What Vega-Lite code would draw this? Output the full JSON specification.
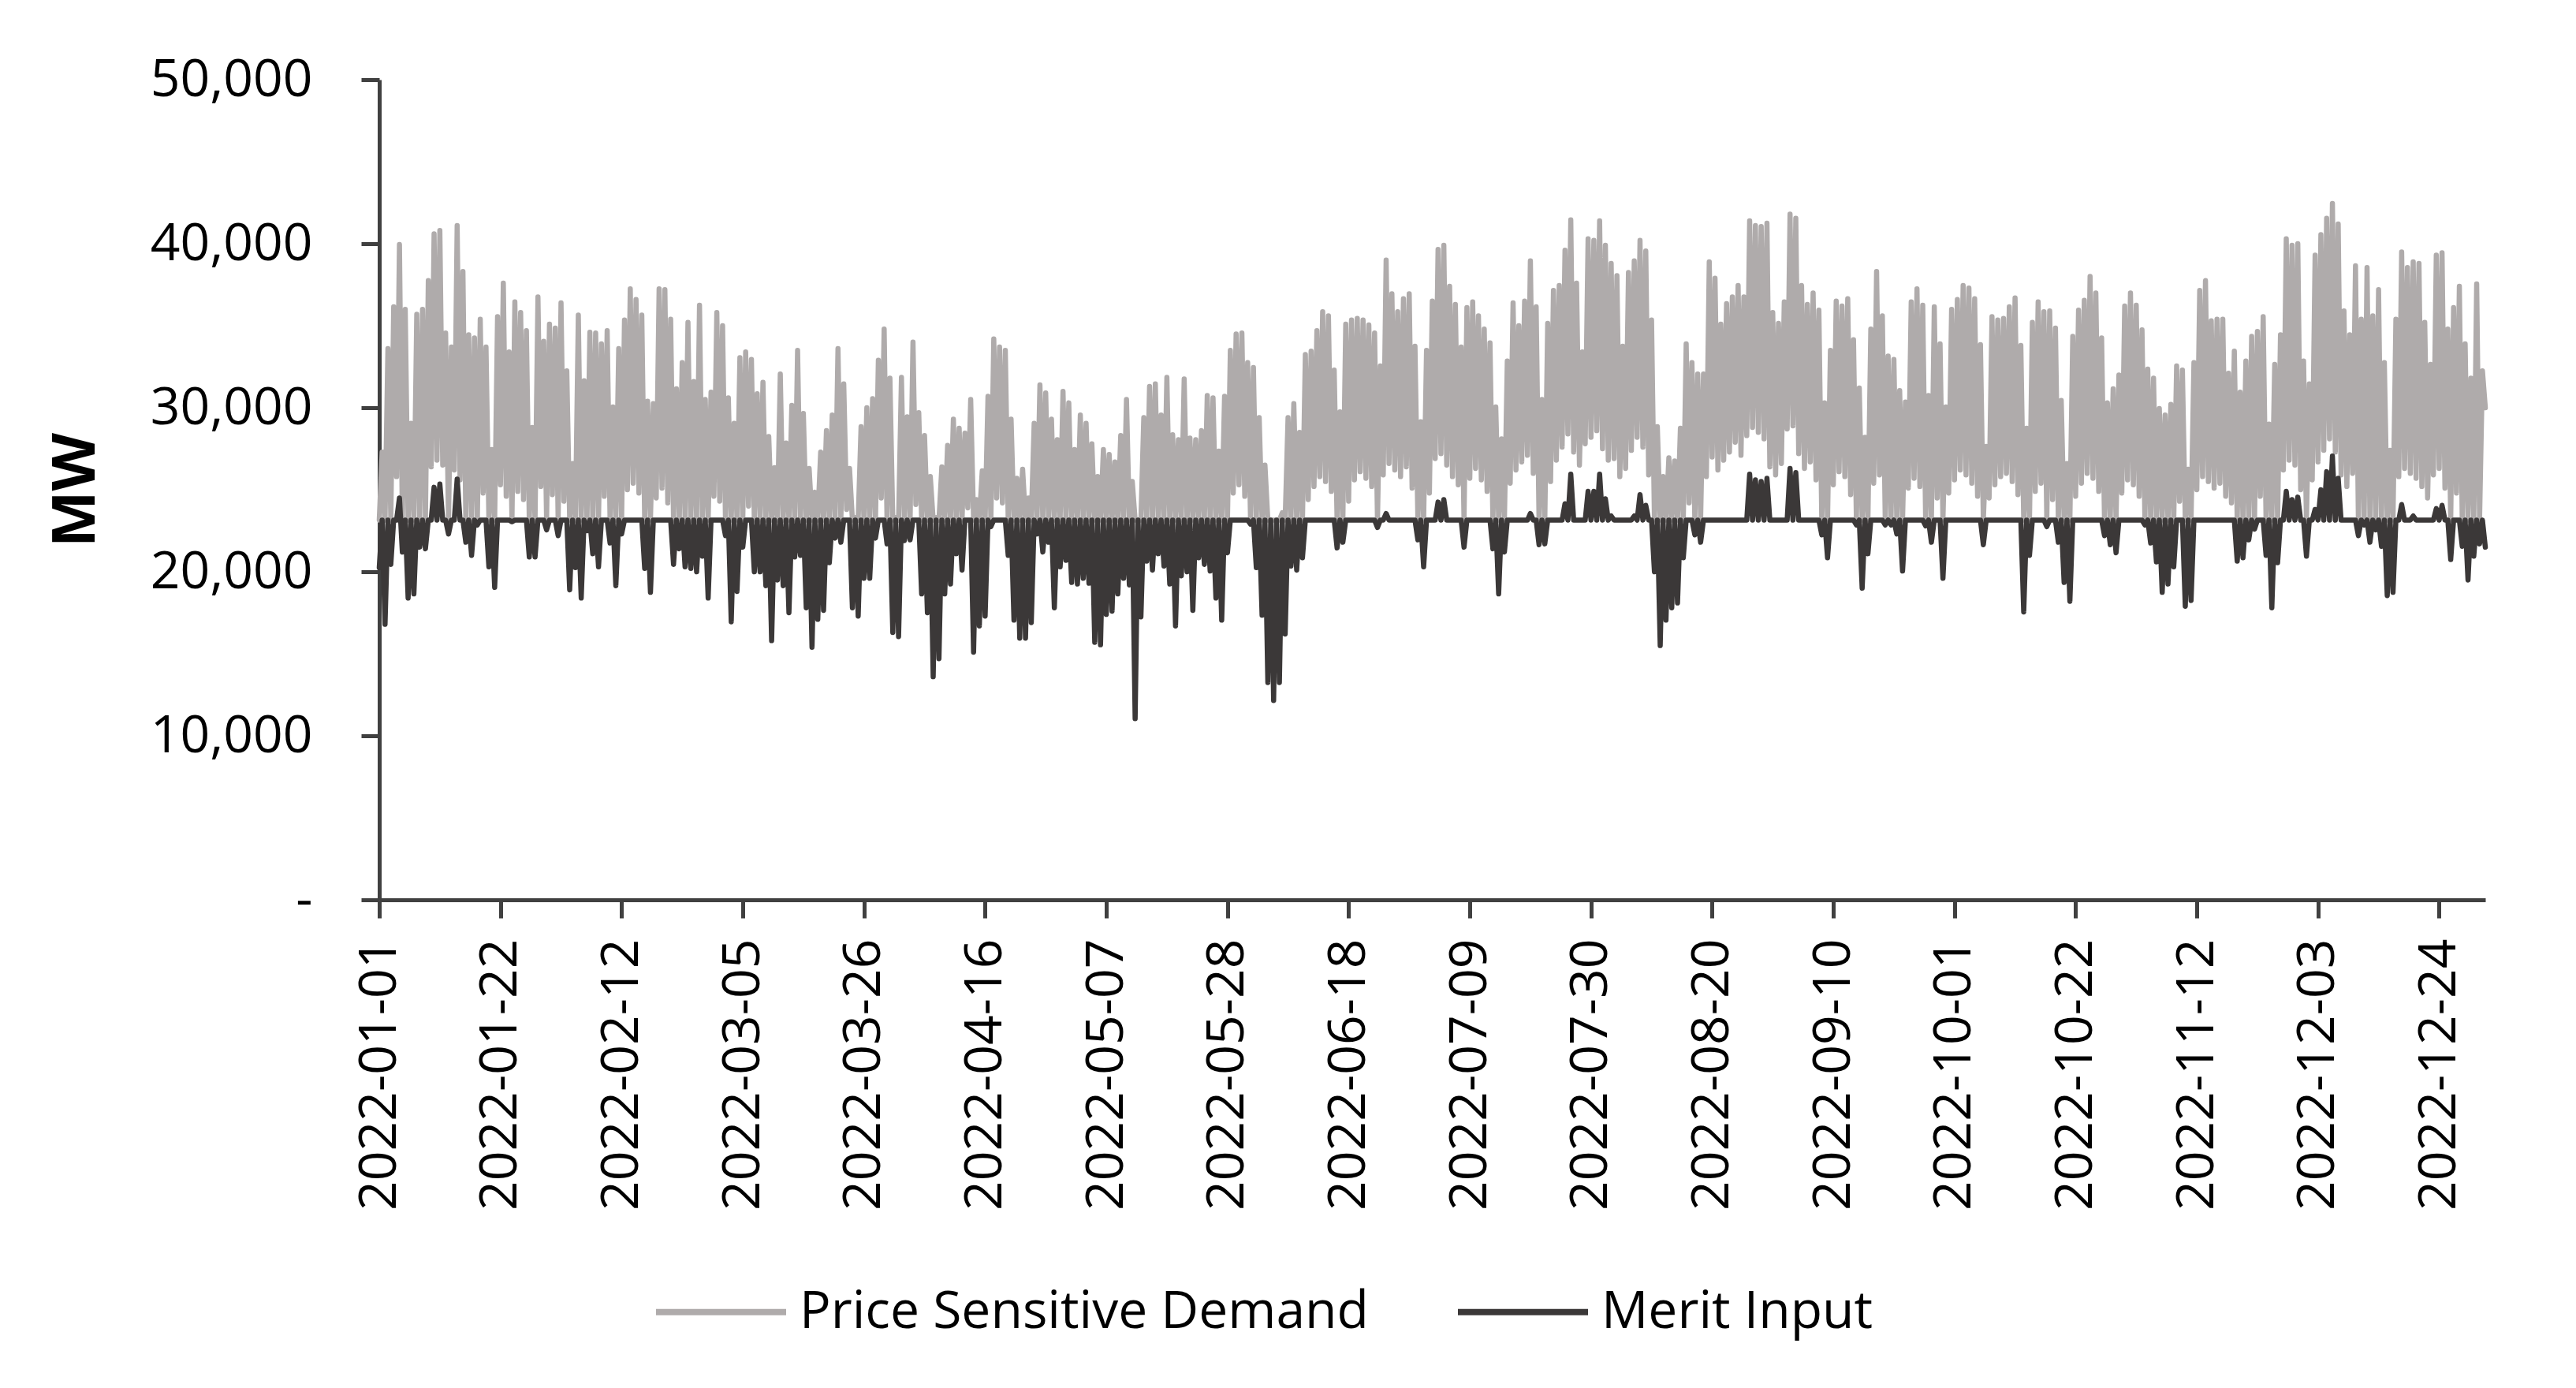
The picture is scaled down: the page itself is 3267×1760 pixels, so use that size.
{
"$schema": "https://vega.github.io/schema/vega-lite/v6.json",
"width": 2671, "height": 1040,
"autosize": {"type": "none"},
"padding": {"left": 481, "top": 101, "right": 115, "bottom": 619},
"background": "white",
"config": {
 "view": {"stroke": null},
 "axis": {"grid": false, "domainColor": "#404040", "domainWidth": 5, "tickColor": "#404040", "tickWidth": 5, "tickSize": 23, "labelFont": "Open Sans", "labelFontSize": 66, "labelColor": "black", "labelFlush": false, "labelOverlap": false, "labelLimit": 0, "labelBound": false}
},
"data": {"values": [
{"d":0,"p":23150,"m":20250},{"d":0.5,"p":27300,"m":23150},
{"d":1,"p":23150,"m":16800},{"d":1.5,"p":33600,"m":23150},
{"d":2,"p":23150,"m":20450},{"d":2.5,"p":36150,"m":23150},
{"d":3,"p":25800,"m":23150},{"d":3.5,"p":39950,"m":24500},
{"d":4,"p":23150,"m":21200},{"d":4.5,"p":36000,"m":23150},
{"d":5,"p":23150,"m":18400},{"d":5.5,"p":29050,"m":23150},
{"d":6,"p":23150,"m":18650},{"d":6.5,"p":35700,"m":23150},
{"d":7,"p":23150,"m":21500},{"d":7.5,"p":36000,"m":23150},
{"d":8,"p":23150,"m":21400},{"d":8.5,"p":37750,"m":23150},
{"d":9,"p":26400,"m":23150},{"d":9.5,"p":40600,"m":25150},
{"d":10,"p":26800,"m":23150},{"d":10.5,"p":40800,"m":25350},
{"d":11,"p":26500,"m":23150},{"d":11.5,"p":34550,"m":23150},
{"d":12,"p":23150,"m":22300},{"d":12.5,"p":33700,"m":23150},
{"d":13,"p":26200,"m":23150},{"d":13.5,"p":41100,"m":25650},
{"d":14,"p":25600,"m":23150},{"d":14.5,"p":38300,"m":23150},
{"d":15,"p":23150,"m":21800},{"d":15.5,"p":34450,"m":23150},
{"d":16,"p":23150,"m":21000},{"d":16.5,"p":34250,"m":23150},
{"d":17,"p":23150,"m":22850},{"d":17.5,"p":35400,"m":23150},
{"d":18,"p":24800,"m":23150},{"d":18.5,"p":33700,"m":23150},
{"d":19,"p":23150,"m":20300},{"d":19.5,"p":27450,"m":23150},
{"d":20,"p":23150,"m":19050},{"d":20.5,"p":35550,"m":23150},
{"d":21,"p":25300,"m":23150},{"d":21.5,"p":37600,"m":23150},
{"d":22,"p":24600,"m":23150},{"d":22.5,"p":33400,"m":23150},
{"d":23,"p":23150,"m":23050},{"d":23.5,"p":36450,"m":23150},
{"d":24,"p":24900,"m":23150},{"d":24.5,"p":35800,"m":23150},
{"d":25,"p":24400,"m":23150},{"d":25.5,"p":34700,"m":23150},
{"d":26,"p":23150,"m":20900},{"d":26.5,"p":28800,"m":23150},
{"d":27,"p":23150,"m":20900},{"d":27.5,"p":36750,"m":23150},
{"d":28,"p":25200,"m":23150},{"d":28.5,"p":34050,"m":23150},
{"d":29,"p":23150,"m":22550},{"d":29.5,"p":35100,"m":23150},
{"d":30,"p":24700,"m":23150},{"d":30.5,"p":34850,"m":23150},
{"d":31,"p":23150,"m":22200},{"d":31.5,"p":36400,"m":23150},
{"d":32,"p":24300,"m":23150},{"d":32.5,"p":32250,"m":23150},
{"d":33,"p":23150,"m":18900},{"d":33.5,"p":26600,"m":23150},
{"d":34,"p":23150,"m":20250},{"d":34.5,"p":35650,"m":23150},
{"d":35,"p":23150,"m":18400},{"d":35.5,"p":31650,"m":23150},
{"d":36,"p":23150,"m":22500},{"d":36.5,"p":34600,"m":23150},
{"d":37,"p":23150,"m":21100},{"d":37.5,"p":34550,"m":23150},
{"d":38,"p":23150,"m":20300},{"d":38.5,"p":33900,"m":23150},
{"d":39,"p":24600,"m":23150},{"d":39.5,"p":34700,"m":23150},
{"d":40,"p":23150,"m":21750},{"d":40.5,"p":30050,"m":23150},
{"d":41,"p":23150,"m":19150},{"d":41.5,"p":33600,"m":23150},
{"d":42,"p":23150,"m":22300},{"d":42.5,"p":35350,"m":23150},
{"d":43,"p":25000,"m":23150},{"d":43.5,"p":37250,"m":23150},
{"d":44,"p":25400,"m":23150},{"d":44.5,"p":36600,"m":23150},
{"d":45,"p":24800,"m":23150},{"d":45.5,"p":35650,"m":23150},
{"d":46,"p":23150,"m":20200},{"d":46.5,"p":30400,"m":23150},
{"d":47,"p":23150,"m":18750},{"d":47.5,"p":30250,"m":23150},
{"d":48,"p":24500,"m":23150},{"d":48.5,"p":37250,"m":23150},
{"d":49,"p":25100,"m":23150},{"d":49.5,"p":37200,"m":23150},
{"d":50,"p":24200,"m":23150},{"d":50.5,"p":35400,"m":23150},
{"d":51,"p":23150,"m":20450},{"d":51.5,"p":31150,"m":23150},
{"d":52,"p":23150,"m":21400},{"d":52.5,"p":32750,"m":23150},
{"d":53,"p":23150,"m":20300},{"d":53.5,"p":35200,"m":23150},
{"d":54,"p":23150,"m":20200},{"d":54.5,"p":31600,"m":23150},
{"d":55,"p":23150,"m":20000},{"d":55.5,"p":36250,"m":23150},
{"d":56,"p":23150,"m":20950},{"d":56.5,"p":30500,"m":23150},
{"d":57,"p":23150,"m":18400},{"d":57.5,"p":30950,"m":23150},
{"d":58,"p":24600,"m":23150},{"d":58.5,"p":35800,"m":23150},
{"d":59,"p":24300,"m":23150},{"d":59.5,"p":35000,"m":23150},
{"d":60,"p":23150,"m":22200},{"d":60.5,"p":30600,"m":23150},
{"d":61,"p":23150,"m":16950},{"d":61.5,"p":29050,"m":23150},
{"d":62,"p":23150,"m":18800},{"d":62.5,"p":33050,"m":23150},
{"d":63,"p":23150,"m":21500},{"d":63.5,"p":33400,"m":23150},
{"d":64,"p":24000,"m":23150},{"d":64.5,"p":32950,"m":23150},
{"d":65,"p":23150,"m":20000},{"d":65.5,"p":30850,"m":23150},
{"d":66,"p":23150,"m":20000},{"d":66.5,"p":31550,"m":23150},
{"d":67,"p":23150,"m":19150},{"d":67.5,"p":28250,"m":23150},
{"d":68,"p":23150,"m":15800},{"d":68.5,"p":26350,"m":23150},
{"d":69,"p":23150,"m":19500},{"d":69.5,"p":32050,"m":23150},
{"d":70,"p":23150,"m":19150},{"d":70.5,"p":27850,"m":23150},
{"d":71,"p":23150,"m":17500},{"d":71.5,"p":30150,"m":23150},
{"d":72,"p":23150,"m":20900},{"d":72.5,"p":33500,"m":23150},
{"d":73,"p":23150,"m":21000},{"d":73.5,"p":29650,"m":23150},
{"d":74,"p":23150,"m":17800},{"d":74.5,"p":26300,"m":23150},
{"d":75,"p":23150,"m":15400},{"d":75.5,"p":24850,"m":23150},
{"d":76,"p":23150,"m":17100},{"d":76.5,"p":27300,"m":23150},
{"d":77,"p":23150,"m":17650},{"d":77.5,"p":28600,"m":23150},
{"d":78,"p":23150,"m":20550},{"d":78.5,"p":29550,"m":23150},
{"d":79,"p":23150,"m":22050},{"d":79.5,"p":33600,"m":23150},
{"d":80,"p":23150,"m":21800},{"d":80.5,"p":31450,"m":23150},
{"d":81,"p":23800,"m":23150},{"d":81.5,"p":26300,"m":23150},
{"d":82,"p":23150,"m":17800},{"d":82.5,"p":23300,"m":23150},
{"d":83,"p":23150,"m":17300},{"d":83.5,"p":28850,"m":23150},
{"d":84,"p":23150,"m":19600},{"d":84.5,"p":30000,"m":23150},
{"d":85,"p":23150,"m":19600},{"d":85.5,"p":30550,"m":23150},
{"d":86,"p":23150,"m":22050},{"d":86.5,"p":32900,"m":23150},
{"d":87,"p":24500,"m":23150},{"d":87.5,"p":34800,"m":23150},
{"d":88,"p":23150,"m":21700},{"d":88.5,"p":31800,"m":23150},
{"d":89,"p":23150,"m":16300},{"d":89.5,"p":23300,"m":23150},
{"d":90,"p":23150,"m":16050},{"d":90.5,"p":31850,"m":23150},
{"d":91,"p":23150,"m":21900},{"d":91.5,"p":29450,"m":23150},
{"d":92,"p":23150,"m":21950},{"d":92.5,"p":34000,"m":23150},
{"d":93,"p":24100,"m":23150},{"d":93.5,"p":29700,"m":23150},
{"d":94,"p":23150,"m":18650},{"d":94.5,"p":28300,"m":23150},
{"d":95,"p":23150,"m":17500},{"d":95.5,"p":25800,"m":23150},
{"d":96,"p":23150,"m":13600},{"d":96.5,"p":23300,"m":23150},
{"d":97,"p":23150,"m":14700},{"d":97.5,"p":26400,"m":23150},
{"d":98,"p":23150,"m":18650},{"d":98.5,"p":27700,"m":23150},
{"d":99,"p":23150,"m":19250},{"d":99.5,"p":29300,"m":23150},
{"d":100,"p":23150,"m":21100},{"d":100.5,"p":28750,"m":23150},
{"d":101,"p":23150,"m":20100},{"d":101.5,"p":28450,"m":23150},
{"d":102,"p":23900,"m":23150},{"d":102.5,"p":30500,"m":23150},
{"d":103,"p":23150,"m":15100},{"d":103.5,"p":24400,"m":23150},
{"d":104,"p":23150,"m":16700},{"d":104.5,"p":26150,"m":23150},
{"d":105,"p":23150,"m":17300},{"d":105.5,"p":30700,"m":23150},
{"d":106,"p":23150,"m":22750},{"d":106.5,"p":34200,"m":23150},
{"d":107,"p":24500,"m":23150},{"d":107.5,"p":33700,"m":23150},
{"d":108,"p":24200,"m":23150},{"d":108.5,"p":33500,"m":23150},
{"d":109,"p":23150,"m":21000},{"d":109.5,"p":29300,"m":23150},
{"d":110,"p":23150,"m":17050},{"d":110.5,"p":25700,"m":23150},
{"d":111,"p":23150,"m":15950},{"d":111.5,"p":26250,"m":23150},
{"d":112,"p":23150,"m":15950},{"d":112.5,"p":24500,"m":23150},
{"d":113,"p":23150,"m":16900},{"d":113.5,"p":29050,"m":23150},
{"d":114,"p":23150,"m":22300},{"d":114.5,"p":31400,"m":23150},
{"d":115,"p":23150,"m":21200},{"d":115.5,"p":30900,"m":23150},
{"d":116,"p":23150,"m":21800},{"d":116.5,"p":29300,"m":23150},
{"d":117,"p":23150,"m":17800},{"d":117.5,"p":28050,"m":23150},
{"d":118,"p":23150,"m":20300},{"d":118.5,"p":31000,"m":23150},
{"d":119,"p":23150,"m":20700},{"d":119.5,"p":30300,"m":23150},
{"d":120,"p":23150,"m":19350},{"d":120.5,"p":27450,"m":23150},
{"d":121,"p":23150,"m":19250},{"d":121.5,"p":29550,"m":23150},
{"d":122,"p":23150,"m":19600},{"d":122.5,"p":29050,"m":23150},
{"d":123,"p":23150,"m":19300},{"d":123.5,"p":27800,"m":23150},
{"d":124,"p":23150,"m":15700},{"d":124.5,"p":25800,"m":23150},
{"d":125,"p":23150,"m":15550},{"d":125.5,"p":27450,"m":23150},
{"d":126,"p":23150,"m":17400},{"d":126.5,"p":27150,"m":23150},
{"d":127,"p":23150,"m":17600},{"d":127.5,"p":26700,"m":23150},
{"d":128,"p":23150,"m":18650},{"d":128.5,"p":28300,"m":23150},
{"d":129,"p":23150,"m":19600},{"d":129.5,"p":30500,"m":23150},
{"d":130,"p":23150,"m":19200},{"d":130.5,"p":25500,"m":23150},
{"d":131,"p":23150,"m":11050},{"d":131.5,"p":23150,"m":23150},
{"d":132,"p":23150,"m":17250},{"d":132.5,"p":29400,"m":23150},
{"d":133,"p":23150,"m":20650},{"d":133.5,"p":31300,"m":23150},
{"d":134,"p":23150,"m":20100},{"d":134.5,"p":31450,"m":23150},
{"d":135,"p":23150,"m":21100},{"d":135.5,"p":29550,"m":23150},
{"d":136,"p":23150,"m":20350},{"d":136.5,"p":31850,"m":23150},
{"d":137,"p":23150,"m":19250},{"d":137.5,"p":28350,"m":23150},
{"d":138,"p":23150,"m":16700},{"d":138.5,"p":28050,"m":23150},
{"d":139,"p":23150,"m":19750},{"d":139.5,"p":31750,"m":23150},
{"d":140,"p":23150,"m":20000},{"d":140.5,"p":28150,"m":23150},
{"d":141,"p":23150,"m":17650},{"d":141.5,"p":28050,"m":23150},
{"d":142,"p":23150,"m":20850},{"d":142.5,"p":28600,"m":23150},
{"d":143,"p":23150,"m":20450},{"d":143.5,"p":30750,"m":23150},
{"d":144,"p":23150,"m":20050},{"d":144.5,"p":30600,"m":23150},
{"d":145,"p":23150,"m":18400},{"d":145.5,"p":27350,"m":23150},
{"d":146,"p":23150,"m":17050},{"d":146.5,"p":30700,"m":23150},
{"d":147,"p":23150,"m":21150},{"d":147.5,"p":33500,"m":23150},
{"d":148,"p":24800,"m":23150},{"d":148.5,"p":34500,"m":23150},
{"d":149,"p":25300,"m":23150},{"d":149.5,"p":34550,"m":23150},
{"d":150,"p":24600,"m":23150},{"d":150.5,"p":32750,"m":23150},
{"d":151,"p":23150,"m":22900},{"d":151.5,"p":32450,"m":23150},
{"d":152,"p":23150,"m":20250},{"d":152.5,"p":29400,"m":23150},
{"d":153,"p":23150,"m":17350},{"d":153.5,"p":26500,"m":23150},
{"d":154,"p":23150,"m":13250},{"d":154.5,"p":23150,"m":23150},
{"d":155,"p":23150,"m":12150},{"d":155.5,"p":23150,"m":23150},
{"d":156,"p":23150,"m":13250},{"d":156.5,"p":23600,"m":23150},
{"d":157,"p":23150,"m":16200},{"d":157.5,"p":29400,"m":23150},
{"d":158,"p":23150,"m":20350},{"d":158.5,"p":30250,"m":23150},
{"d":159,"p":23150,"m":20100},{"d":159.5,"p":28500,"m":23150},
{"d":160,"p":23150,"m":20850},{"d":160.5,"p":33250,"m":23150},
{"d":161,"p":24400,"m":23150},{"d":161.5,"p":33450,"m":23150},
{"d":162,"p":25200,"m":23150},{"d":162.5,"p":34700,"m":23150},
{"d":163,"p":25800,"m":23150},{"d":163.5,"p":35850,"m":23150},
{"d":164,"p":25500,"m":23150},{"d":164.5,"p":35600,"m":23150},
{"d":165,"p":24900,"m":23150},{"d":165.5,"p":32300,"m":23150},
{"d":166,"p":23150,"m":21450},{"d":166.5,"p":29750,"m":23150},
{"d":167,"p":23150,"m":21800},{"d":167.5,"p":35100,"m":23150},
{"d":168,"p":24300,"m":23150},{"d":168.5,"p":35350,"m":23150},
{"d":169,"p":25600,"m":23150},{"d":169.5,"p":35450,"m":23150},
{"d":170,"p":26100,"m":23150},{"d":170.5,"p":35350,"m":23150},
{"d":171,"p":25700,"m":23150},{"d":171.5,"p":35050,"m":23150},
{"d":172,"p":25200,"m":23150},{"d":172.5,"p":34550,"m":23150},
{"d":173,"p":23150,"m":22700},{"d":173.5,"p":32550,"m":23150},
{"d":174,"p":25900,"m":23150},{"d":174.5,"p":39000,"m":23550},
{"d":175,"p":26600,"m":23150},{"d":175.5,"p":36950,"m":23150},
{"d":176,"p":26200,"m":23150},{"d":176.5,"p":35850,"m":23150},
{"d":177,"p":25800,"m":23150},{"d":177.5,"p":36650,"m":23150},
{"d":178,"p":26400,"m":23150},{"d":178.5,"p":36950,"m":23150},
{"d":179,"p":25100,"m":23150},{"d":179.5,"p":33750,"m":23150},
{"d":180,"p":23150,"m":21950},{"d":180.5,"p":29150,"m":23150},
{"d":181,"p":23150,"m":20300},{"d":181.5,"p":33500,"m":23150},
{"d":182,"p":24800,"m":23150},{"d":182.5,"p":36500,"m":23150},
{"d":183,"p":26900,"m":23150},{"d":183.5,"p":39650,"m":24250},
{"d":184,"p":27200,"m":23150},{"d":184.5,"p":39900,"m":24400},
{"d":185,"p":26500,"m":23150},{"d":185.5,"p":37400,"m":23150},
{"d":186,"p":25800,"m":23150},{"d":186.5,"p":36300,"m":23150},
{"d":187,"p":25300,"m":23150},{"d":187.5,"p":33700,"m":23150},
{"d":188,"p":23150,"m":21500},{"d":188.5,"p":36100,"m":23150},
{"d":189,"p":25700,"m":23150},{"d":189.5,"p":36450,"m":23150},
{"d":190,"p":26300,"m":23150},{"d":190.5,"p":35600,"m":23150},
{"d":191,"p":25600,"m":23150},{"d":191.5,"p":34800,"m":23150},
{"d":192,"p":24900,"m":23150},{"d":192.5,"p":33950,"m":23150},
{"d":193,"p":23150,"m":21400},{"d":193.5,"p":30050,"m":23150},
{"d":194,"p":23150,"m":18650},{"d":194.5,"p":28100,"m":23150},
{"d":195,"p":23150,"m":21200},{"d":195.5,"p":32850,"m":23150},
{"d":196,"p":25400,"m":23150},{"d":196.5,"p":36400,"m":23150},
{"d":197,"p":26200,"m":23150},{"d":197.5,"p":35000,"m":23150},
{"d":198,"p":26700,"m":23150},{"d":198.5,"p":36500,"m":23150},
{"d":199,"p":27100,"m":23150},{"d":199.5,"p":38950,"m":23550},
{"d":200,"p":26000,"m":23150},{"d":200.5,"p":36150,"m":23150},
{"d":201,"p":23150,"m":21650},{"d":201.5,"p":30500,"m":23150},
{"d":202,"p":23150,"m":21700},{"d":202.5,"p":35150,"m":23150},
{"d":203,"p":25500,"m":23150},{"d":203.5,"p":37150,"m":23150},
{"d":204,"p":26800,"m":23150},{"d":204.5,"p":37450,"m":23150},
{"d":205,"p":27600,"m":23150},{"d":205.5,"p":39600,"m":24150},
{"d":206,"p":28400,"m":23150},{"d":206.5,"p":41450,"m":25950},
{"d":207,"p":27300,"m":23150},{"d":207.5,"p":37600,"m":23150},
{"d":208,"p":26500,"m":23150},{"d":208.5,"p":33400,"m":23150},
{"d":209,"p":27800,"m":23150},{"d":209.5,"p":40300,"m":24900},
{"d":210,"p":28200,"m":23150},{"d":210.5,"p":40200,"m":24900},
{"d":211,"p":28600,"m":23150},{"d":211.5,"p":41400,"m":25950},
{"d":212,"p":27500,"m":23150},{"d":212.5,"p":39900,"m":24450},
{"d":213,"p":26800,"m":23150},{"d":213.5,"p":38800,"m":23400},
{"d":214,"p":26900,"m":23150},{"d":214.5,"p":38050,"m":23150},
{"d":215,"p":25800,"m":23150},{"d":215.5,"p":33750,"m":23150},
{"d":216,"p":26300,"m":23150},{"d":216.5,"p":38250,"m":23150},
{"d":217,"p":27400,"m":23150},{"d":217.5,"p":38950,"m":23400},
{"d":218,"p":28200,"m":23150},{"d":218.5,"p":40200,"m":24700},
{"d":219,"p":27600,"m":23150},{"d":219.5,"p":39550,"m":24050},
{"d":220,"p":25900,"m":23150},{"d":220.5,"p":35350,"m":23150},
{"d":221,"p":23150,"m":20000},{"d":221.5,"p":28850,"m":23150},
{"d":222,"p":23150,"m":15500},{"d":222.5,"p":25800,"m":23150},
{"d":223,"p":23150,"m":17050},{"d":223.5,"p":26950,"m":23150},
{"d":224,"p":23150,"m":17800},{"d":224.5,"p":26750,"m":23150},
{"d":225,"p":23150,"m":18100},{"d":225.5,"p":28750,"m":23150},
{"d":226,"p":23150,"m":20850},{"d":226.5,"p":33900,"m":23150},
{"d":227,"p":24200,"m":23150},{"d":227.5,"p":32750,"m":23150},
{"d":228,"p":23150,"m":22250},{"d":228.5,"p":32050,"m":23150},
{"d":229,"p":23150,"m":21800},{"d":229.5,"p":32050,"m":23150},
{"d":230,"p":25800,"m":23150},{"d":230.5,"p":38900,"m":23150},
{"d":231,"p":27000,"m":23150},{"d":231.5,"p":37900,"m":23150},
{"d":232,"p":26200,"m":23150},{"d":232.5,"p":35100,"m":23150},
{"d":233,"p":26800,"m":23150},{"d":233.5,"p":36350,"m":23150},
{"d":234,"p":27300,"m":23150},{"d":234.5,"p":36750,"m":23150},
{"d":235,"p":27900,"m":23150},{"d":235.5,"p":37450,"m":23150},
{"d":236,"p":27100,"m":23150},{"d":236.5,"p":36750,"m":23150},
{"d":237,"p":28300,"m":23150},{"d":237.5,"p":41400,"m":25950},
{"d":238,"p":28800,"m":23150},{"d":238.5,"p":41100,"m":25600},
{"d":239,"p":28500,"m":23150},{"d":239.5,"p":41050,"m":25500},
{"d":240,"p":28100,"m":23150},{"d":240.5,"p":41250,"m":25700},
{"d":241,"p":26400,"m":23150},{"d":241.5,"p":35800,"m":23150},
{"d":242,"p":25900,"m":23150},{"d":242.5,"p":35150,"m":23150},
{"d":243,"p":26600,"m":23150},{"d":243.5,"p":36450,"m":23150},
{"d":244,"p":28700,"m":23150},{"d":244.5,"p":41800,"m":26300},
{"d":245,"p":28900,"m":23150},{"d":245.5,"p":41550,"m":26050},
{"d":246,"p":27200,"m":23150},{"d":246.5,"p":37450,"m":23150},
{"d":247,"p":26300,"m":23150},{"d":247.5,"p":36300,"m":23150},
{"d":248,"p":26700,"m":23150},{"d":248.5,"p":37000,"m":23150},
{"d":249,"p":25600,"m":23150},{"d":249.5,"p":35950,"m":23150},
{"d":250,"p":23150,"m":22250},{"d":250.5,"p":30300,"m":23150},
{"d":251,"p":23150,"m":20850},{"d":251.5,"p":33500,"m":23150},
{"d":252,"p":25300,"m":23150},{"d":252.5,"p":36500,"m":23150},
{"d":253,"p":26100,"m":23150},{"d":253.5,"p":36200,"m":23150},
{"d":254,"p":25800,"m":23150},{"d":254.5,"p":36650,"m":23150},
{"d":255,"p":24700,"m":23150},{"d":255.5,"p":34150,"m":23150},
{"d":256,"p":23150,"m":22850},{"d":256.5,"p":31200,"m":23150},
{"d":257,"p":23150,"m":19000},{"d":257.5,"p":28200,"m":23150},
{"d":258,"p":23150,"m":21100},{"d":258.5,"p":34800,"m":23150},
{"d":259,"p":25400,"m":23150},{"d":259.5,"p":38300,"m":23150},
{"d":260,"p":25900,"m":23150},{"d":260.5,"p":35600,"m":23150},
{"d":261,"p":23150,"m":22850},{"d":261.5,"p":33150,"m":23150},
{"d":262,"p":23150,"m":22850},{"d":262.5,"p":32950,"m":23150},
{"d":263,"p":23150,"m":22300},{"d":263.5,"p":31050,"m":23150},
{"d":264,"p":23150,"m":20050},{"d":264.5,"p":30350,"m":23150},
{"d":265,"p":25100,"m":23150},{"d":265.5,"p":36450,"m":23150},
{"d":266,"p":25700,"m":23150},{"d":266.5,"p":37250,"m":23150},
{"d":267,"p":25200,"m":23150},{"d":267.5,"p":36250,"m":23150},
{"d":268,"p":23150,"m":22800},{"d":268.5,"p":30750,"m":23150},
{"d":269,"p":23150,"m":21800},{"d":269.5,"p":36150,"m":23150},
{"d":270,"p":24500,"m":23150},{"d":270.5,"p":33900,"m":23150},
{"d":271,"p":23150,"m":19600},{"d":271.5,"p":30050,"m":23150},
{"d":272,"p":24800,"m":23150},{"d":272.5,"p":36000,"m":23150},
{"d":273,"p":25600,"m":23150},{"d":273.5,"p":36600,"m":23150},
{"d":274,"p":26200,"m":23150},{"d":274.5,"p":37450,"m":23150},
{"d":275,"p":25900,"m":23150},{"d":275.5,"p":37300,"m":23150},
{"d":276,"p":25400,"m":23150},{"d":276.5,"p":36650,"m":23150},
{"d":277,"p":24600,"m":23150},{"d":277.5,"p":33850,"m":23150},
{"d":278,"p":23150,"m":21650},{"d":278.5,"p":27650,"m":23150},
{"d":279,"p":24500,"m":23150},{"d":279.5,"p":35550,"m":23150},
{"d":280,"p":25300,"m":23150},{"d":280.5,"p":35350,"m":23150},
{"d":281,"p":25800,"m":23150},{"d":281.5,"p":35450,"m":23150},
{"d":282,"p":26000,"m":23150},{"d":282.5,"p":36150,"m":23150},
{"d":283,"p":25500,"m":23150},{"d":283.5,"p":36700,"m":23150},
{"d":284,"p":24700,"m":23150},{"d":284.5,"p":33800,"m":23150},
{"d":285,"p":23150,"m":17550},{"d":285.5,"p":28750,"m":23150},
{"d":286,"p":23150,"m":21000},{"d":286.5,"p":35200,"m":23150},
{"d":287,"p":24900,"m":23150},{"d":287.5,"p":36450,"m":23150},
{"d":288,"p":25400,"m":23150},{"d":288.5,"p":35850,"m":23150},
{"d":289,"p":23150,"m":22750},{"d":289.5,"p":35900,"m":23150},
{"d":290,"p":24400,"m":23150},{"d":290.5,"p":34850,"m":23150},
{"d":291,"p":23150,"m":21800},{"d":291.5,"p":30450,"m":23150},
{"d":292,"p":23150,"m":19350},{"d":292.5,"p":26600,"m":23150},
{"d":293,"p":23150,"m":18200},{"d":293.5,"p":34350,"m":23150},
{"d":294,"p":24600,"m":23150},{"d":294.5,"p":35950,"m":23150},
{"d":295,"p":25400,"m":23150},{"d":295.5,"p":36550,"m":23150},
{"d":296,"p":26000,"m":23150},{"d":296.5,"p":38000,"m":23150},
{"d":297,"p":25700,"m":23150},{"d":297.5,"p":37000,"m":23150},
{"d":298,"p":24900,"m":23150},{"d":298.5,"p":34250,"m":23150},
{"d":299,"p":23150,"m":22200},{"d":299.5,"p":30300,"m":23150},
{"d":300,"p":23150,"m":21650},{"d":300.5,"p":31150,"m":23150},
{"d":301,"p":23150,"m":21150},{"d":301.5,"p":32000,"m":23150},
{"d":302,"p":24800,"m":23150},{"d":302.5,"p":36200,"m":23150},
{"d":303,"p":25600,"m":23150},{"d":303.5,"p":37000,"m":23150},
{"d":304,"p":25300,"m":23150},{"d":304.5,"p":36250,"m":23150},
{"d":305,"p":24600,"m":23150},{"d":305.5,"p":34750,"m":23150},
{"d":306,"p":23150,"m":22850},{"d":306.5,"p":32350,"m":23150},
{"d":307,"p":23150,"m":21750},{"d":307.5,"p":31800,"m":23150},
{"d":308,"p":23150,"m":20600},{"d":308.5,"p":29950,"m":23150},
{"d":309,"p":23150,"m":18750},{"d":309.5,"p":29550,"m":23150},
{"d":310,"p":23150,"m":19250},{"d":310.5,"p":30200,"m":23150},
{"d":311,"p":23150,"m":20300},{"d":311.5,"p":32550,"m":23150},
{"d":312,"p":24300,"m":23150},{"d":312.5,"p":32300,"m":23150},
{"d":313,"p":23150,"m":17900},{"d":313.5,"p":26250,"m":23150},
{"d":314,"p":23150,"m":18250},{"d":314.5,"p":32750,"m":23150},
{"d":315,"p":25000,"m":23150},{"d":315.5,"p":37150,"m":23150},
{"d":316,"p":25800,"m":23150},{"d":316.5,"p":37750,"m":23150},
{"d":317,"p":25500,"m":23150},{"d":317.5,"p":35300,"m":23150},
{"d":318,"p":25100,"m":23150},{"d":318.5,"p":35400,"m":23150},
{"d":319,"p":25400,"m":23150},{"d":319.5,"p":35400,"m":23150},
{"d":320,"p":24600,"m":23150},{"d":320.5,"p":32100,"m":23150},
{"d":321,"p":24200,"m":23150},{"d":321.5,"p":33450,"m":23150},
{"d":322,"p":23150,"m":20650},{"d":322.5,"p":30950,"m":23150},
{"d":323,"p":23150,"m":20850},{"d":323.5,"p":32850,"m":23150},
{"d":324,"p":23150,"m":21950},{"d":324.5,"p":34350,"m":23150},
{"d":325,"p":23150,"m":22600},{"d":325.5,"p":34650,"m":23150},
{"d":326,"p":24600,"m":23150},{"d":326.5,"p":35550,"m":23150},
{"d":327,"p":23150,"m":21000},{"d":327.5,"p":29000,"m":23150},
{"d":328,"p":23150,"m":17800},{"d":328.5,"p":32650,"m":23150},
{"d":329,"p":23150,"m":20550},{"d":329.5,"p":34450,"m":23150},
{"d":330,"p":26200,"m":23150},{"d":330.5,"p":40300,"m":24900},
{"d":331,"p":26800,"m":23150},{"d":331.5,"p":39900,"m":24400},
{"d":332,"p":26500,"m":23150},{"d":332.5,"p":40000,"m":24550},
{"d":333,"p":25000,"m":23150},{"d":333.5,"p":32850,"m":23150},
{"d":334,"p":23150,"m":20950},{"d":334.5,"p":31450,"m":23150},
{"d":335,"p":25600,"m":23150},{"d":335.5,"p":39300,"m":23800},
{"d":336,"p":26700,"m":23150},{"d":336.5,"p":40550,"m":25000},
{"d":337,"p":27400,"m":23150},{"d":337.5,"p":41550,"m":26100},
{"d":338,"p":28100,"m":23150},{"d":338.5,"p":42450,"m":27050},
{"d":339,"p":27300,"m":23150},{"d":339.5,"p":41200,"m":25700},
{"d":340,"p":25900,"m":23150},{"d":340.5,"p":35900,"m":23150},
{"d":341,"p":25200,"m":23150},{"d":341.5,"p":34450,"m":23150},
{"d":342,"p":26000,"m":23150},{"d":342.5,"p":38650,"m":23150},
{"d":343,"p":23150,"m":22200},{"d":343.5,"p":35400,"m":23150},
{"d":344,"p":23150,"m":22850},{"d":344.5,"p":38550,"m":23150},
{"d":345,"p":23150,"m":21800},{"d":345.5,"p":35600,"m":23150},
{"d":346,"p":23150,"m":22550},{"d":346.5,"p":37200,"m":23150},
{"d":347,"p":23150,"m":21550},{"d":347.5,"p":32750,"m":23150},
{"d":348,"p":23150,"m":18550},{"d":348.5,"p":27400,"m":23150},
{"d":349,"p":23150,"m":18750},{"d":349.5,"p":35400,"m":23150},
{"d":350,"p":25800,"m":23150},{"d":350.5,"p":39500,"m":24100},
{"d":351,"p":26300,"m":23150},{"d":351.5,"p":38550,"m":23150},
{"d":352,"p":26000,"m":23150},{"d":352.5,"p":38900,"m":23400},
{"d":353,"p":25700,"m":23150},{"d":353.5,"p":38800,"m":23150},
{"d":354,"p":25200,"m":23150},{"d":354.5,"p":35200,"m":23150},
{"d":355,"p":24500,"m":23150},{"d":355.5,"p":32650,"m":23150},
{"d":356,"p":25900,"m":23150},{"d":356.5,"p":39300,"m":23850},
{"d":357,"p":26300,"m":23150},{"d":357.5,"p":39450,"m":24050},
{"d":358,"p":25100,"m":23150},{"d":358.5,"p":34800,"m":23150},
{"d":359,"p":23150,"m":20750},{"d":359.5,"p":36100,"m":23150},
{"d":360,"p":24800,"m":23150},{"d":360.5,"p":37400,"m":23150},
{"d":361,"p":23150,"m":21550},{"d":361.5,"p":33900,"m":23150},
{"d":362,"p":23150,"m":19500},{"d":362.5,"p":31800,"m":23150},
{"d":363,"p":23150,"m":20950},{"d":363.5,"p":37550,"m":23150},
{"d":364,"p":23150,"m":21700},{"d":364.5,"p":32250,"m":23150},
{"d":365,"p":30000,"m":21500}
]},
"encoding": {
 "x": {"field": "d", "type": "quantitative", "title": null,
  "scale": {"domain": [0, 365], "nice": false, "zero": false},
  "axis": {"values": [0,21,42,63,84,105,126,147,168,189,210,231,252,273,294,315,336,357], "labelAngle": -90, "labelPadding": 26, "labelExpr": "timeFormat(datetime(2022, 0, 1 + datum.value), '%Y-%m-%d')"}}
},
"layer": [
 {"mark": {"type": "line", "strokeWidth": 6.5, "strokeCap": "round", "strokeJoin": "round"},
  "encoding": {
   "y": {"field": "p", "type": "quantitative", "title": "MW",
    "scale": {"domain": [0, 50000], "nice": false},
    "axis": {"values": [0,10000,20000,30000,40000,50000], "labelPadding": 62, "labelExpr": "datum.value == 0 ? '-\u00a0\u00a0' : format(datum.value, ',')", "titleX": -385, "titleY": 520, "titleAngle": -90, "titleAlign": "center", "titleBaseline": "middle", "titleFont": "Open Sans", "titleFontSize": 76, "titleFontWeight": "bold", "titleColor": "black"}},
   "color": {"datum": "Price Sensitive Demand", "type": "nominal",
    "scale": {"domain": ["Price Sensitive Demand", "Merit Input"], "range": ["#AFABAB", "#3B3838"]},
    "legend": {"orient": "none", "legendX": 347, "legendY": 1476, "direction": "horizontal", "title": null, "symbolType": "stroke", "symbolSize": 27225, "symbolStrokeWidth": 8, "labelFont": "Open Sans", "labelFontSize": 66, "labelColor": "black", "labelOffset": 13, "columnPadding": 97, "padding": 0, "labelLimit": 0}}
  }},
 {"mark": {"type": "line", "strokeWidth": 6.5, "strokeCap": "round", "strokeJoin": "round"},
  "encoding": {
   "y": {"field": "m", "type": "quantitative", "title": "MW"},
   "color": {"datum": "Merit Input", "type": "nominal"}
  }}
]
}
